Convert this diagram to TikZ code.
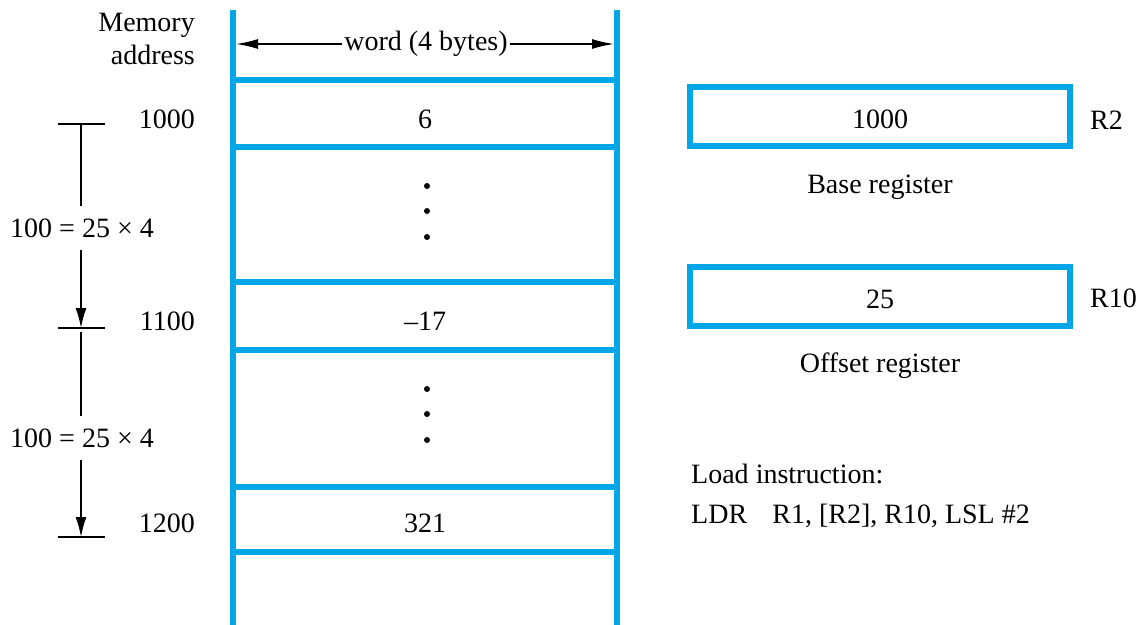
\documentclass[tikz,border=0pt]{standalone}
\usepackage{fontspec}
\setmainfont{Liberation Serif}
\usetikzlibrary{arrows.meta}
\definecolor{memblue}{RGB}{0,166,230}

\begin{document}
\begin{tikzpicture}[x=1pt, y=-1pt,
  font=\fontsize{28}{34}\selectfont,
  wall/.style={draw=memblue, line width=6pt},
  regbox/.style={draw=memblue, line width=6pt, minimum width=380pt,
                 minimum height=59pt, inner sep=0pt, text height=25pt},
  txt/.style={inner sep=0pt, anchor=base},
  rtxt/.style={inner sep=0pt, anchor=base east},
  ltxt/.style={inner sep=0pt, anchor=base west},
  dimline/.style={draw=black, line width=1.6pt},
  dimarrow/.style={dimline, -{Latex[length=20pt, width=11pt]}},
  dot/.style={circle, fill=black, inner sep=0pt, minimum size=6pt}]

\useasboundingbox (0,0) rectangle (1140,624);

% memory column: two walls and the word separators
\draw[wall] (233,10) -- (233,630);
\draw[wall] (617,10) -- (617,630);
\foreach \yy in {80,147,282,350,487,552}
  \draw[wall] (233,\yy) -- (617,\yy);

% word width marker
\coordinate (wl) at (236,44);
\coordinate (wr) at (614,44);
\node[inner sep=2pt] (word) at (426,44) {word (4 bytes)};
\draw[dimline, -{Latex[length=22pt, width=10pt]}] (word.west) -- (wl);
\draw[dimline, -{Latex[length=22pt, width=10pt]}] (word.east) -- (wr);

% addresses
\node[rtxt] (ma1) at (195,31) {Memory};
\node[rtxt] (ma2) at (195,64) {address};
\node[rtxt] (a1000) at (195,128) {1000};
\node[rtxt] (a1100) at (195,330) {1100};
\node[rtxt] (a1200) at (195,532) {1200};

% word contents
\node[txt] (w1) at (425,128) {6};
\node[txt] (w2) at (425,330) {–17};
\node[txt] (w3) at (425,532) {321};
\node[dot] (d1) at (427,186) {};
\node[dot] (d2) at (427,211) {};
\node[dot] (d3) at (427,237) {};
\node[dot] (d4) at (427,389) {};
\node[dot] (d5) at (427,414) {};
\node[dot] (d6) at (427,440) {};

% address spacing dimensions
\coordinate (t1) at (81,124);
\coordinate (t2) at (81,328);
\coordinate (t2b) at (81,332);
\coordinate (t3) at (81,537);
\draw[dimline] (58,124) -- (105,124);
\draw[dimline] (58,328) -- (105,328);
\draw[dimline] (58,537) -- (105,537);
\node[inner xsep=0pt, inner ysep=12pt] (s1) at (82,228) {100 = 25 × 4};
\node[inner xsep=0pt, inner ysep=12pt] (s2) at (82,438) {100 = 25 × 4};
\draw[dimline] (t1) -- (t1 |- s1.north);
\draw[dimarrow] (t1 |- s1.south) -- (t2);
\draw[dimline] (t2b) -- (t2b |- s2.north);
\draw[dimarrow] (t2b |- s2.south) -- (t3);

% registers
\node[regbox] (base) at (880,116.5) {1000};
\node[ltxt] (r2) at (1090,129) {R2};
\node[txt] (basel) at (880,193) {Base register};
\node[regbox] (offset) at (880,296) {25};
\node[ltxt] (r10) at (1090,307) {R10};
\node[txt] (offl) at (880,372) {Offset register};

% instruction
\node[ltxt] (ld1) at (691,483) {Load instruction:};
\node[ltxt] (ld2) at (691,523) {LDR\hspace{0.9em}R1, [R2], R10, LSL \#2};
\end{tikzpicture}
\end{document}
